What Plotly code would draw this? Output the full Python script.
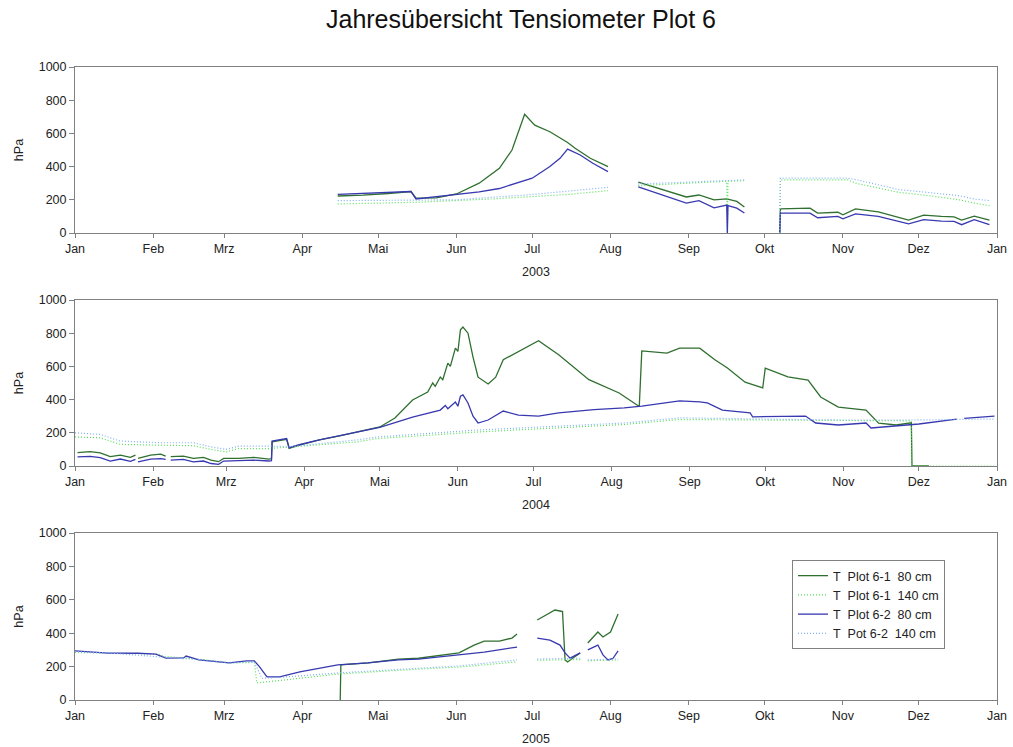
import plotly.graph_objects as go

# ---------------------------------------------------------------------------
# Tensiometer readings (hPa), one list of (date, value) per sensor and year.
# A value of None breaks the line (sensor outage).
# ---------------------------------------------------------------------------
SERIES_NAMES = [
    "T\u00a0\u00a0Plot 6-1\u00a0\u00a080 cm",
    "T\u00a0\u00a0Plot 6-1\u00a0\u00a0140 cm",
    "T\u00a0\u00a0Plot 6-2\u00a0\u00a080 cm",
    "T\u00a0\u00a0Pot 6-2\u00a0\u00a0140 cm",
]
MONTH_LABELS = ["Jan", "Feb", "Mrz", "Apr", "Mai", "Jun", "Jul", "Aug",
                "Sep", "Okt", "Nov", "Dez", "Jan"]
YEARS = [2003, 2004, 2005]

# ---- 2003 ----
p61_80_2003 = [
    ("2003-04-15", 223), ("2003-04-25", 228), ("2003-05-05", 238), ("2003-05-14", 250),
    ("2003-05-16", 210), ("2003-05-24", 212), ("2003-06-01", 235), ("2003-06-10", 300),
    ("2003-06-18", 390), ("2003-06-23", 500), ("2003-06-28", 715), ("2003-07-02", 650),
    ("2003-07-08", 610), ("2003-07-15", 545), ("2003-07-18", 510), ("2003-07-24", 450),
    ("2003-07-31", 400), ("2003-08-05", None),
    ("2003-08-12", 307), ("2003-08-20", 270), ("2003-08-31", 217), ("2003-09-05", 229),
    ("2003-09-11", 200), ("2003-09-16", 205), ("2003-09-20", 190), ("2003-09-23", 157),
    ("2003-09-30", None),
    ("2003-10-07 00:00", 0), ("2003-10-07 06:00", 145), ("2003-10-19", 150),
    ("2003-10-22", 120), ("2003-10-30", 125), ("2003-11-01", 110), ("2003-11-06", 145),
    ("2003-11-15", 127), ("2003-11-27", 78), ("2003-12-03", 108), ("2003-12-10", 100),
    ("2003-12-15", 97), ("2003-12-18", 78), ("2003-12-23", 102), ("2003-12-29", 78),
]
p61_140_2003 = [
    ("2003-04-15", 175), ("2003-05-16", 185), ("2003-06-15", 205), ("2003-07-15", 232),
    ("2003-07-31", 255), ("2003-08-05", None),
    ("2003-08-12", 285), ("2003-09-16 00:00", 312), ("2003-09-16 06:00", 0),
    ("2003-09-16 12:00", 312), ("2003-09-23", 315), ("2003-09-30", None),
    ("2003-10-07 00:00", 0), ("2003-10-07 06:00", 320), ("2003-11-03", 320),
    ("2003-11-06", 300), ("2003-11-23", 245), ("2003-12-05", 225), ("2003-12-17", 200),
    ("2003-12-23", 180), ("2003-12-29", 165),
]
p62_80_2003 = [
    ("2003-04-15", 233), ("2003-05-01", 240), ("2003-05-14", 250), ("2003-05-16", 205),
    ("2003-05-24", 218), ("2003-06-01", 232), ("2003-06-10", 248), ("2003-06-18", 268),
    ("2003-06-25", 300), ("2003-07-01", 330), ("2003-07-08", 400), ("2003-07-12", 450),
    ("2003-07-15", 505), ("2003-07-20", 470), ("2003-07-25", 420), ("2003-07-31", 370),
    ("2003-08-05", None),
    ("2003-08-12", 278), ("2003-08-20", 235), ("2003-08-31", 180), ("2003-09-05", 195),
    ("2003-09-11", 152), ("2003-09-16 00:00", 168), ("2003-09-16 06:00", 0),
    ("2003-09-16 12:00", 165), ("2003-09-20", 150), ("2003-09-23", 120),
    ("2003-09-30", None),
    ("2003-10-07 00:00", 0), ("2003-10-07 06:00", 120), ("2003-10-19", 120),
    ("2003-10-22", 92), ("2003-10-30", 100), ("2003-11-01", 85), ("2003-11-06", 115),
    ("2003-11-15", 100), ("2003-11-27", 55), ("2003-12-03", 80), ("2003-12-10", 72),
    ("2003-12-15", 70), ("2003-12-18", 50), ("2003-12-23", 80), ("2003-12-29", 50),
]
p62_140_2003 = [
    ("2003-04-15", 195), ("2003-06-01", 200), ("2003-07-01", 232), ("2003-07-31", 275),
    ("2003-08-05", None),
    ("2003-08-12", 295), ("2003-09-23", 320), ("2003-09-30", None),
    ("2003-10-07 00:00", 0), ("2003-10-07 06:00", 330), ("2003-11-03", 330),
    ("2003-11-06", 322), ("2003-11-23", 262), ("2003-12-05", 245), ("2003-12-17", 225),
    ("2003-12-23", 205), ("2003-12-29", 195),
]

# ---- 2004 ----
p61_80_2004 = [
    ("2004-01-02", 80), ("2004-01-07", 86), ("2004-01-11", 79), ("2004-01-15", 56),
    ("2004-01-19", 66), ("2004-01-23", 52), ("2004-01-25", 66), ("2004-01-25 12:00", None),
    ("2004-01-26", 46), ("2004-01-31", 66), ("2004-02-04", 72), ("2004-02-06", 60),
    ("2004-02-07", None),
    ("2004-02-08", 56), ("2004-02-13", 60), ("2004-02-17", 46), ("2004-02-21", 52),
    ("2004-02-24", 36), ("2004-02-27", 26), ("2004-02-29", 46), ("2004-03-06", 46),
    ("2004-03-12", 52), ("2004-03-18", 42), ("2004-03-19 00:00", 45),
    ("2004-03-19 06:00", 146), ("2004-03-25", 160), ("2004-03-26", 106),
    ("2004-03-30", 126), ("2004-04-07", 157), ("2004-04-15", 181), ("2004-04-22", 203),
    ("2004-05-01", 235), ("2004-05-07", 289), ("2004-05-14", 398), ("2004-05-20", 446),
    ("2004-05-22", 500), ("2004-05-23", 480), ("2004-05-25", 536), ("2004-05-26", 520),
    ("2004-05-28", 620), ("2004-05-29", 600), ("2004-05-31", 710), ("2004-06-01", 690),
    ("2004-06-02", 820), ("2004-06-03", 837), ("2004-06-05", 800), ("2004-06-07", 656),
    ("2004-06-09", 535), ("2004-06-13", 494), ("2004-06-16", 535), ("2004-06-19", 640),
    ("2004-06-25", 690), ("2004-07-03", 755), ("2004-07-11", 670), ("2004-07-23", 520),
    ("2004-08-04", 440), ("2004-08-12", 358), ("2004-08-13", 693), ("2004-08-23", 680),
    ("2004-08-28", 710), ("2004-09-05", 710), ("2004-09-11", 640), ("2004-09-16", 590),
    ("2004-09-23", 505), ("2004-09-28", 478), ("2004-09-30", 470), ("2004-10-01", 590),
    ("2004-10-10", 537), ("2004-10-18", 518), ("2004-10-23", 416), ("2004-10-30", 355),
    ("2004-11-10", 337), ("2004-11-15", 258), ("2004-11-22", 247), ("2004-11-28 00:00", 260),
    ("2004-11-28 06:00", 0), ("2004-12-05", 0),
]
p61_140_2004 = [
    ("2004-01-01", 175), ("2004-01-11", 170), ("2004-01-19", 130), ("2004-02-04", 125),
    ("2004-02-17", 122), ("2004-02-24", 100), ("2004-03-01", 85), ("2004-03-06", 105),
    ("2004-03-18", 105), ("2004-04-22", 145), ("2004-04-30", 165), ("2004-06-09", 205),
    ("2004-08-06", 250), ("2004-08-28", 280), ("2004-09-30", 278), ("2004-10-30", 275),
    ("2004-11-28 00:00", 272), ("2004-11-28 06:00", 0), ("2004-12-31", 0),
]
p62_80_2004 = [
    ("2004-01-02", 55), ("2004-01-07", 58), ("2004-01-11", 50), ("2004-01-15", 30),
    ("2004-01-19", 42), ("2004-01-23", 28), ("2004-01-25", 40), ("2004-01-25 12:00", None),
    ("2004-01-26", 25), ("2004-01-31", 42), ("2004-02-04", 45), ("2004-02-06", 40),
    ("2004-02-07", None),
    ("2004-02-08", 35), ("2004-02-13", 40), ("2004-02-17", 25), ("2004-02-21", 30),
    ("2004-02-24", 15), ("2004-02-27", 10), ("2004-02-29", 30), ("2004-03-06", 32),
    ("2004-03-12", 35), ("2004-03-18", 30), ("2004-03-19 00:00", 32),
    ("2004-03-19 06:00", 150), ("2004-03-25", 165), ("2004-03-26", 110),
    ("2004-03-30", 128), ("2004-04-07", 158), ("2004-04-15", 182), ("2004-04-22", 203),
    ("2004-05-01", 232), ("2004-05-14", 295), ("2004-05-20", 320), ("2004-05-25", 337),
    ("2004-05-27", 365), ("2004-05-28", 345), ("2004-05-31", 385), ("2004-06-01", 360),
    ("2004-06-02", 420), ("2004-06-03", 428), ("2004-06-05", 380), ("2004-06-07", 300),
    ("2004-06-09", 259), ("2004-06-13", 277), ("2004-06-19", 331), ("2004-06-25", 307),
    ("2004-07-03", 301), ("2004-07-11", 320), ("2004-07-25", 340), ("2004-08-06", 350),
    ("2004-08-13", 361), ("2004-08-28", 392), ("2004-09-05", 386), ("2004-09-08", 380),
    ("2004-09-14", 337), ("2004-09-25", 320), ("2004-09-26", 296), ("2004-10-17", 301),
    ("2004-10-21", 259), ("2004-10-30", 247), ("2004-11-10", 259), ("2004-11-12", 229),
    ("2004-12-01", 253), ("2004-12-16", 283), ("2004-12-17", None),
    ("2004-12-19", 287), ("2004-12-31", 301),
]
p62_140_2004 = [
    ("2004-01-01", 200), ("2004-01-11", 190), ("2004-01-19", 150), ("2004-02-04", 140),
    ("2004-02-17", 140), ("2004-02-24", 115), ("2004-03-01", 100), ("2004-03-06", 120),
    ("2004-03-18", 120), ("2004-03-26", 116), ("2004-04-22", 157), ("2004-04-30", 175),
    ("2004-06-09", 217), ("2004-08-06", 259), ("2004-08-28", 290), ("2004-09-30", 283),
    ("2004-10-30", 277), ("2004-11-28", 277), ("2004-12-31", 283),
]

# ---- 2005 ----
p61_80_2005 = [
    ("2005-04-16 00:00", 0), ("2005-04-16 06:00", 210), ("2005-04-27", 222),
    ("2005-05-09", 245), ("2005-05-17", 250), ("2005-06-02", 282), ("2005-06-08", 329),
    ("2005-06-12", 353), ("2005-06-18", 353), ("2005-06-23", 371), ("2005-06-25", 395),
    ("2005-06-29", None),
    ("2005-07-03", 479), ("2005-07-10", 539), ("2005-07-12", 533), ("2005-07-13", 530),
    ("2005-07-14", 240), ("2005-07-15", 228), ("2005-07-17", 250), ("2005-07-20", 282),
    ("2005-07-21", None),
    ("2005-07-23", 341), ("2005-07-27", 407), ("2005-07-29", 377), ("2005-08-01", 407),
    ("2005-08-04", 515),
]
p61_140_2005 = [
    ("2005-01-01", 285), ("2005-01-14", 280), ("2005-02-02", 275), ("2005-02-06", 260),
    ("2005-02-19", 245), ("2005-03-03", 222), ("2005-03-13", 225), ("2005-03-14", 102),
    ("2005-03-23", 118), ("2005-04-15", 155), ("2005-05-17", 185), ("2005-06-02", 197),
    ("2005-06-25", 228), ("2005-06-29", None),
    ("2005-07-03", 238), ("2005-07-20", 242), ("2005-07-21", None),
    ("2005-07-23", 235), ("2005-08-04", 240),
]
p62_80_2005 = [
    ("2005-01-01", 294), ("2005-01-14", 281), ("2005-01-26", 280), ("2005-02-02", 275),
    ("2005-02-06", 251), ("2005-02-13", 252), ("2005-02-14", 263), ("2005-02-19", 240),
    ("2005-03-03", 222), ("2005-03-10", 234), ("2005-03-13", 234), ("2005-03-15", 200),
    ("2005-03-18", 138), ("2005-03-23", 138), ("2005-03-31", 168), ("2005-04-08", 192),
    ("2005-04-15", 210), ("2005-04-27", 222), ("2005-05-09", 240), ("2005-05-17", 245),
    ("2005-06-02", 270), ("2005-06-12", 287), ("2005-06-25", 317), ("2005-06-29", None),
    ("2005-07-03", 371), ("2005-07-08", 359), ("2005-07-12", 329), ("2005-07-14", 282),
    ("2005-07-16", 251), ("2005-07-20", 282), ("2005-07-21", None),
    ("2005-07-23", 300), ("2005-07-27", 329), ("2005-07-29", 270), ("2005-07-31", 240),
    ("2005-08-02", 250), ("2005-08-04", 294),
]
p62_140_2005 = [
    ("2005-01-01", 290), ("2005-01-14", 282), ("2005-02-06", 255), ("2005-02-19", 242),
    ("2005-03-03", 222), ("2005-03-13", 228), ("2005-03-16", 130), ("2005-03-23", 135),
    ("2005-04-15", 162), ("2005-05-17", 192), ("2005-06-02", 204), ("2005-06-25", 240),
    ("2005-06-29", None),
    ("2005-07-03", 245), ("2005-07-20", 250), ("2005-07-21", None),
    ("2005-07-23", 240), ("2005-08-04", 245),
]

DATA = {
    2003: [p61_80_2003, p61_140_2003, p62_80_2003, p62_140_2003],
    2004: [p61_80_2004, p61_140_2004, p62_80_2004, p62_140_2004],
    2005: [p61_80_2005, p61_140_2005, p62_80_2005, p62_140_2005],
}

# line style per sensor: (colour, width, dash)
STYLES = [
    ("#2f6f2f", 1.3, "solid"),
    ("#55e055", 1.2, "1px,2px"),
    ("#3838b0", 1.3, "solid"),
    ("#7fb0f0", 1.2, "1px,2px"),
]

# panel geometry (paper fractions of a 747 px tall page without margins)
H = 747.0
PANEL_PX = [(67, 233), (300, 466), (533, 700)]

FONT = "Liberation Sans, Arial, sans-serif"
AXIS_GREY = "#808080"
TXT = "#222"
FS = 12.5

fig = go.Figure()

for i, year in enumerate(YEARS):
    xa = "x" if i == 0 else f"x{i + 1}"
    ya = "y" if i == 0 else f"y{i + 1}"
    for k, series in enumerate(DATA[year]):
        color, width, dash = STYLES[k]
        fig.add_trace(go.Scatter(
            x=[d for d, _ in series],
            y=[v for _, v in series],
            mode="lines",
            name=SERIES_NAMES[k],
            legendgroup=f"s{k}",
            showlegend=(i == 0),
            line=dict(color=color, width=width, dash=dash),
            connectgaps=False,
            xaxis=xa, yaxis=ya,
            hoverinfo="skip",
        ))

    top, bottom = PANEL_PX[i]
    tickvals = [f"{year}-{m:02d}-01" for m in range(1, 13)] + [f"{year + 1}-01-01"]
    xkey = "xaxis" if i == 0 else f"xaxis{i + 1}"
    ykey = "yaxis" if i == 0 else f"yaxis{i + 1}"
    fig.update_layout({
        xkey: dict(
            domain=[0, 1],
            anchor=ya,
            type="date",
            range=[f"{year}-01-01", f"{year + 1}-01-01"],
            tickmode="array",
            tickvals=tickvals,
            ticktext=MONTH_LABELS,
            ticks="outside", ticklen=4, tickwidth=1, tickcolor=AXIS_GREY,
            showline=True, linecolor=AXIS_GREY, linewidth=1, mirror=True,
            showgrid=False, zeroline=False, automargin=False,
            tickfont=dict(family=FONT, size=FS, color=TXT),
            title=dict(text=str(year), font=dict(family=FONT, size=FS, color=TXT),
                       standoff=12),
        ),
        ykey: dict(
            domain=[1 - bottom / H, 1 - top / H],
            anchor=xa,
            range=[0, 1000],
            tickvals=[0, 200, 400, 600, 800, 1000],
            ticks="outside", ticklen=5, tickwidth=1, tickcolor=AXIS_GREY,
            showline=True, linecolor=AXIS_GREY, linewidth=1, mirror=True,
            showgrid=False, zeroline=False, automargin=False,
            tickfont=dict(family=FONT, size=FS, color=TXT),
            title=dict(text="hPa", font=dict(family=FONT, size=FS, color=TXT),
                       standoff=12),
        ),
    })

fig.update_layout(
    width=1013, height=747,
    margin=dict(l=75, r=16, t=0, b=0, autoexpand=False),
    paper_bgcolor="white", plot_bgcolor="white",
    title=dict(text="Jahresübersicht Tensiometer Plot 6",
               font=dict(family=FONT, size=25, color="#111"),
               x=521 / 1013, xref="container", xanchor="center",
               y=1 - 19 / H, yref="container", yanchor="middle"),
    legend=dict(
        x=(792 - 75) / 922, y=1 - 560 / H, xanchor="left", yanchor="top",
        bgcolor="white", bordercolor=AXIS_GREY, borderwidth=1,
        font=dict(family=FONT, size=FS, color=TXT),
        itemwidth=30, tracegroupgap=0,
        entrywidth=160, entrywidthmode="pixels",
    ),
)

fig.write_html("out.html")
